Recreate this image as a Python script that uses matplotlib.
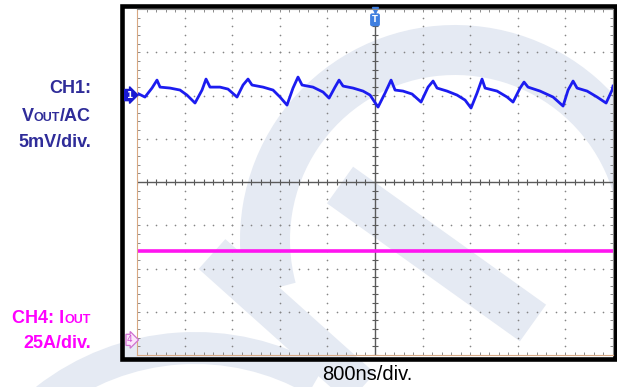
import numpy as np
import matplotlib.pyplot as plt
from matplotlib.patches import Rectangle, Wedge

# scope settings
time_per_div = 800.0    # ns/div
ch1_per_div = 5.0       # mV/div
ch4_per_div = 25.0      # A/div
ch1_offset = 2.01       # div, channel 1 ground marker
ch4_offset = -3.65      # div, channel 4 ground marker

# CH1: Vout ripple (AC coupled)
t1_ns = [0, 134, 252, 336, 387, 555, 723, 840, 975, 1093, 1160, 1227, 1395, 1530,
         1681, 1782, 1866, 1933, 2118, 2286, 2404, 2521, 2622, 2706, 2774, 2958,
         3127, 3228, 3328, 3396, 3463, 3631, 3799, 3917, 4051, 4169, 4270, 4337,
         4471, 4623, 4774, 4892, 4976, 5043, 5211, 5379, 5514, 5614, 5715, 5799,
         5850, 6052, 6220, 6320, 6438, 6505, 6572, 6774, 6993, 7161, 7245, 7329,
         7396, 7565, 7733, 7884, 7985, 8000]
v1_mv = [0.23, -0.23, 0.81, 1.73, 0.92, 0.81, 0.58, 0.00, -0.92, 0.58, 1.85, 0.92,
         0.92, 0.69, -0.23, 1.16, 1.85, 1.16, 0.92, 0.58, -0.23, -1.16, 0.81, 2.08,
         1.16, 0.92, 0.35, -0.35, 0.92, 1.73, 1.04, 0.81, 0.46, 0.00, -1.39, 0.23,
         1.73, 0.58, 0.46, 0.12, -0.81, 0.92, 1.62, 0.81, 0.46, 0.00, -0.58, -1.50,
         0.23, 1.85, 0.81, 0.46, -0.23, -0.81, 0.81, 1.50, 0.92, 0.46, -0.23, -1.27,
         0.58, 1.62, 0.81, 0.46, -0.23, -0.92, 0.58, 1.04]

# CH4: Iout, flat
t4_ns = [0, 8000]
i4_a = [51.5, 51.5]

W, H = 617, 387
fig = plt.figure(figsize=(W / 100, H / 100), dpi=100)
fig.patch.set_facecolor("white")

# background layer in pixel coords (watermark + black frame)
bg = fig.add_axes([0, 0, 1, 1], zorder=0)
bg.set_xlim(0, W)
bg.set_ylim(H, 0)
bg.axis("off")
wm = "#e5eaf3"
bg.add_patch(Wedge((455, 240), 215, 165, 360, width=50, color=wm, lw=0))
bg.add_patch(Wedge((195, 590), 258, 232, 300, width=32, color=wm, lw=0))
bg.plot([340, 533], [185, 323], color=wm, lw=45 / 1.389, solid_capstyle="butt")
bg.plot([212, 375], [254, 400], color=wm, lw=40 / 1.389, solid_capstyle="butt")
bg.add_patch(Rectangle((122.3, 6.3), 492.4, 352.4, fill=False, lw=3.3, ec="black", zorder=5))

# scope screen
ax = fig.add_axes([137 / W, 32 / H, 476 / W, 346 / H], zorder=1)
ax.set_facecolor("none")
ax.set_xlim(0, 10)
ax.set_ylim(-4, 4)

fine_x = np.arange(0, 10.001, 0.2)
fine_y = np.arange(-4, 4.001, 0.2)
for gx in [1, 2, 3, 4, 6, 7, 8, 9]:
    ax.plot(np.full_like(fine_y, gx), fine_y, ls="none", marker="o", ms=1.2,
            mew=0, color="#858585")
for gy in [-3, -2, -1, 1, 2, 3]:
    ax.plot(fine_x, np.full_like(fine_x, gy), ls="none", marker="o", ms=1.2,
            mew=0, color="#858585")

ax.axhline(0, color="#5a5a5a", lw=1.0)
ax.axvline(5, color="#5a5a5a", lw=1.0)
ax.plot(fine_x, np.zeros_like(fine_x), ls="none", marker="|", ms=4.5, mew=0.8, color="#5a5a5a")
ax.plot(np.full_like(fine_y, 5), fine_y, ls="none", marker="_", ms=4.5, mew=0.8, color="#5a5a5a")

ax.set_xticks(fine_x)
ax.set_yticks(fine_y)
ax.tick_params(direction="in", length=2.5, width=0.6, color="#7a7a7a",
               top=True, right=True, labelbottom=False, labelleft=False)
for side in ["left", "bottom"]:
    ax.spines[side].set_color("#d9a882")
for side in ["top", "right"]:
    ax.spines[side].set_color("#8a8a8a")

# traces
ax.plot(np.array(t1_ns) / time_per_div, ch1_offset + np.array(v1_mv) / ch1_per_div,
        color="#1c1cf0", lw=2.0)
ax.plot(np.array(t4_ns) / time_per_div, ch4_offset + np.array(i4_a) / ch4_per_div,
        color="#ff14f0", lw=2.6)

# channel / trigger markers
ax.text(-0.17, ch1_offset, "1", ha="center", va="center", color="white", fontsize=6.5,
        fontweight="bold", clip_on=False,
        bbox=dict(boxstyle="rarrow,pad=0.12", fc="#1a1ad2", ec="#1a1ad2"))
ax.text(-0.15, ch4_offset, "4", ha="center", va="center", color="#d050d0", fontsize=6.5,
        clip_on=False,
        bbox=dict(boxstyle="rarrow,pad=0.12", fc="#fbe6fb", ec="#d070d0", lw=0.9))
ax.text(5, 3.75, "T", ha="center", va="center", color="white", fontsize=6,
        fontweight="bold", bbox=dict(boxstyle="round,pad=0.15", fc="#3f7fe0", ec="#3f7fe0"))
ax.plot([5], [3.97], marker="v", ms=4, color="#3f7fe0", clip_on=False)

# left side labels (right aligned, small caps for "OUT")
renderer = fig.canvas.get_renderer()
blue_txt = "#2f2c99"
mag_txt = "#ff00ff"
big, small = 13, 9


def right_runs(x_px, base_px, runs):
    x = x_px
    for s, size, color in reversed(runs):
        t = fig.text(x / W, 1 - base_px / H, s, ha="right", va="baseline",
                     fontsize=size, color=color, fontweight="bold",
                     family="Liberation Sans")
        x = t.get_window_extent(renderer).x0


right_runs(91, 93, [("CH1:", big, blue_txt)])
right_runs(91, 121, [("V", big, blue_txt), ("OUT", small, blue_txt), ("/AC", big, blue_txt)])
right_runs(91, 147, [("5mV/div.", big, blue_txt)])
right_runs(91, 323, [("CH4: I", big, mag_txt), ("OUT", small, mag_txt)])
right_runs(91, 348, [("25A/div.", big, mag_txt)])

fig.text(367 / W, 1 - 380 / H, "800ns/div.", ha="center", va="baseline",
         fontsize=14.5, color="black", family="Liberation Sans")

fig.savefig("out.png", dpi=100)
